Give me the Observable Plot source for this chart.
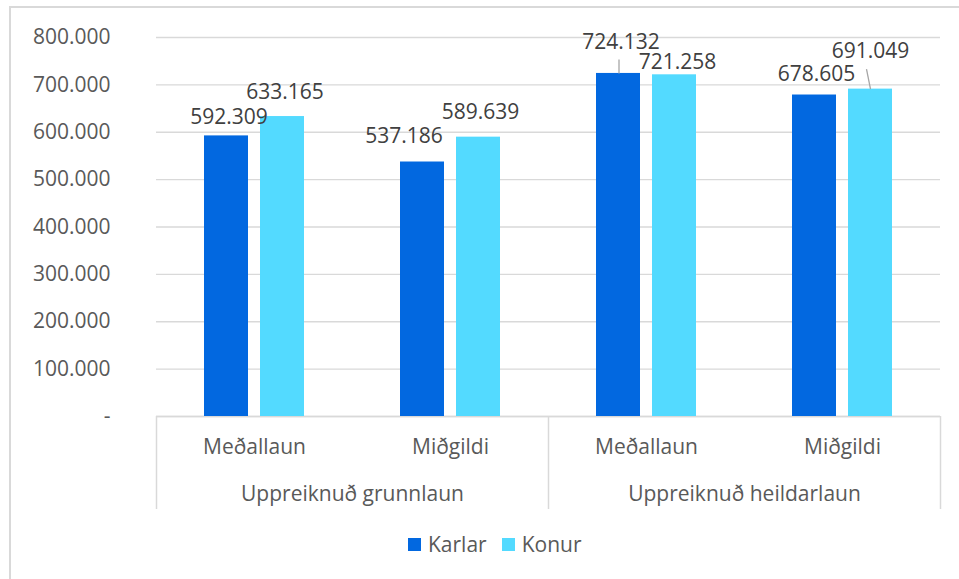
<!DOCTYPE html>
<html>
<head>
<meta charset="utf-8">
<script src="https://cdn.jsdelivr.net/npm/d3@7"></script>
<script src="https://cdn.jsdelivr.net/npm/@observablehq/plot@0.6"></script>
<style>
  html, body { margin: 0; padding: 0; background: #ffffff; }
  #wrap { position: relative; width: 959px; height: 579px; overflow: hidden;
          font-family: "Open Sans", sans-serif; color: #595959; }
  #frame { position: absolute; left: 9px; top: 6px; width: 1200px; height: 1200px;
           border-left: 2px solid #d9d9d9; border-top: 2px solid #d9d9d9; }
  #chart { position: absolute; left: 0; top: 0; }
  #legend { position: absolute; left: 408px; top: 529px; height: 30px;
            display: flex; align-items: center; font-size: 21px; color: #595959; }
  .item { display: flex; align-items: center; margin-right: 15px; }
  .sw { width: 13px; height: 13px; margin-right: 7px; }
</style>
</head>
<body>
<div id="wrap">
  <div id="frame"></div>
  <div id="chart"></div>
  <div id="legend"></div>
</div>
<script>
// ---- data ----
const groups = ["Uppreiknuð grunnlaun", "Uppreiknuð heildarlaun"];
const measures = ["Meðallaun", "Miðgildi", "Meðallaun", "Miðgildi"];
const seriesNames = ["Karlar", "Konur"];
const karlar = [592309, 537186, 724132, 678605];
const konur  = [633165, 589639, 721258, 691049];
const yTicks = [0, 100000, 200000, 300000, 400000, 500000, 600000, 700000, 800000];

// ---- layout / style ----
const colors = {Karlar: "#0268e0", Konur: "#53daff"};
const W = 959, H = 520, mL = 156, mR = 19, mT = 37, mB = 104;
const nCat = measures.length;
const xUnit = (W - mL - mR) / nCat;          // px per category
const yUnit = (H - mT - mB) / 800000;         // px per value unit
const seriesDx = {Karlar: -28, Konur: 28};
const barInset = {Karlar: [48, 104], Konur: [104, 48]};
// manual label nudges (px) as placed in the original, order: K1,C1,K2,C2,K3,C3,K4,C4
const labelNudge = [[2.5,-18.4],[2.5,-24.5],[-18.5,-26],[2,-25.2],[2.5,-31.5],[3,-12.8],[2,-20.5],[0,-38]];
// leader lines: index into rows, start & end offsets in px relative to bar top centre
const leaders = [{k: 4, from: [0.5, 0], to: [0.5, -14]}, {k: 7, from: [0, 0], to: [-4, -20]}];

const rows = [];
measures.forEach((m, c) => {
  rows.push({c, measure: m, group: groups[Math.floor(c / 2)], series: "Karlar", value: karlar[c]});
  rows.push({c, measure: m, group: groups[Math.floor(c / 2)], series: "Konur", value: konur[c]});
});

const fmt = v => v === 0 ? "-" : d3.format(",.0f")(v).replace(/,/g, ".");

const marks = [
  Plot.gridY(yTicks, {stroke: "#d9d9d9", strokeOpacity: 1, strokeWidth: 1.3}),
  Plot.axisY(yTicks, {tickSize: 0, tickPadding: 46, tickFormat: fmt, label: null, fontSize: 21}),
  Plot.axisX([0, 2, 4], {tickSize: 93, tickFormat: () => "", stroke: "#d9d9d9", strokeOpacity: 1, strokeWidth: 1.5, label: null}),
  Plot.axisX(measures.map((m, i) => i + 0.5), {tickSize: 0, tickPadding: 23, tickFormat: d => measures[Math.floor(d)], label: null, fontSize: 21}),
  Plot.axisX(groups.map((g, i) => i * 2 + 1), {tickSize: 0, tickPadding: 70, tickFormat: d => groups[Math.floor(d / 2)], label: null, fontSize: 21}),
  Plot.ruleY([0], {stroke: "#d9d9d9", strokeWidth: 1.5}),
];

seriesNames.forEach(s => {
  marks.push(Plot.rectY(rows.filter(r => r.series === s), {
    x1: "c", x2: r => r.c + 1, y: "value", fill: colors[s],
    insetLeft: barInset[s][0], insetRight: barInset[s][1]
  }));
});

rows.forEach((r, k) => {
  marks.push(Plot.text([r], {
    x: d => d.c + 0.5, y: "value", text: d => fmt(d.value),
    dx: seriesDx[r.series] + labelNudge[k][0], dy: labelNudge[k][1],
    fill: "#404040", fontSize: 21
  }));
});

const leaderRows = leaders.map(l => {
  const r = rows[l.k];
  const cx = r.c + 0.5 + seriesDx[r.series] / xUnit;
  return {
    x1: cx + l.from[0] / xUnit, y1: r.value - l.from[1] / yUnit,
    x2: cx + l.to[0] / xUnit, y2: r.value - l.to[1] / yUnit
  };
});
marks.push(Plot.link(leaderRows, {x1: "x1", y1: "y1", x2: "x2", y2: "y2", stroke: "#a6a6a6", strokeWidth: 1.3}));

const chart = Plot.plot({
  width: W, height: H,
  marginLeft: mL, marginRight: mR, marginTop: mT, marginBottom: mB,
  style: {fontFamily: "Open Sans", fontSize: "21px", color: "#595959", background: "transparent", overflow: "visible"},
  x: {type: "linear", domain: [0, nCat]},
  y: {domain: [0, 800000]},
  marks
});
document.getElementById("chart").appendChild(chart);

const legend = document.getElementById("legend");
seriesNames.forEach(s => {
  const it = document.createElement("div");
  it.className = "item";
  const sw = document.createElement("div");
  sw.className = "sw";
  sw.style.background = colors[s];
  const t = document.createElement("span");
  t.textContent = s;
  it.appendChild(sw); it.appendChild(t);
  legend.appendChild(it);
});
</script>
</body>
</html>
